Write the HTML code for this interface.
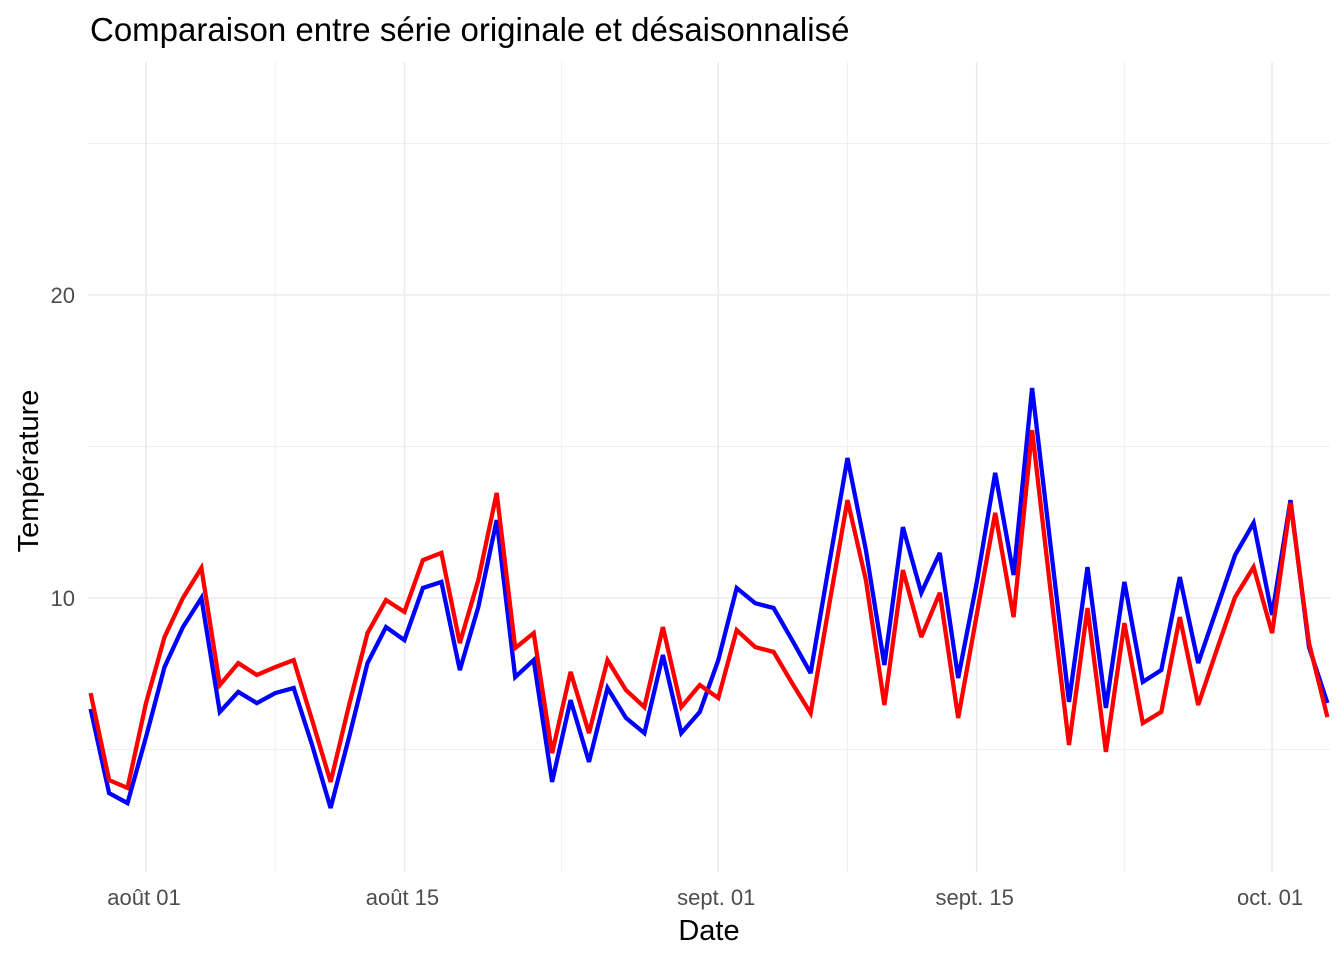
<!DOCTYPE html>
<html><head><meta charset="utf-8">
<style>
html,body{margin:0;padding:0;background:#fff;}
svg{display:block;font-family:"Liberation Sans",sans-serif;}
</style></head>
<body>
<svg id="chart" width="1344" height="960">
<text x="90" y="41" font-size="33" fill="#000">Comparaison entre série originale et désaisonnalisé</text>
<g id="grid"></g>
<g id="lines"></g>
<g id="axes"></g>
<text x="709" y="940" font-size="29" fill="#000" text-anchor="middle">Date</text>
<text transform="translate(38,471) rotate(-90)" font-size="29" fill="#000" text-anchor="middle">Température</text>
</svg>
<script>
const startDate = "2023-07-29";
const originalSeries = [6.34,3.56,3.23,5.41,7.72,9.04,10.00,6.24,6.90,6.53,6.86,7.03,5.15,3.07,5.41,7.85,9.04,8.61,10.33,10.53,7.62,9.70,12.57,7.39,7.95,3.93,6.63,4.59,7.03,6.04,5.54,8.12,5.54,6.24,7.95,10.33,9.83,9.67,8.61,7.52,11.09,14.62,11.58,7.79,12.34,10.17,11.49,7.36,10.50,14.13,10.76,16.93,11.75,6.57,11.02,6.37,10.53,7.23,7.62,10.69,7.85,9.64,11.42,12.48,9.44,13.23,8.38,6.53];
const adjustedSeries = [6.86,3.99,3.73,6.53,8.71,10.00,10.99,7.13,7.85,7.46,7.72,7.95,5.97,3.93,6.47,8.84,9.93,9.54,11.25,11.49,8.51,10.59,13.47,8.35,8.84,4.88,7.56,5.54,7.95,6.96,6.40,9.04,6.40,7.13,6.70,8.94,8.38,8.22,7.19,6.20,9.74,13.23,10.59,6.47,10.92,8.71,10.17,6.04,9.44,12.81,9.37,15.54,10.26,5.15,9.67,4.92,9.17,5.87,6.24,9.37,6.47,8.28,10.03,11.02,8.84,13.14,8.51,6.07];
const yMajorTicks = [10, 20];
const yMinorTicks = [5, 15, 25];
const xTickDates = ["2023-08-01","2023-08-15","2023-09-01","2023-09-15","2023-10-01"];
const xTickLabels = ["août 01","août 15","sept. 01","sept. 15","oct. 01"];

const NS="http://www.w3.org/2000/svg";
const DAY=86400000, ref=Date.parse("2023-08-01T00:00:00Z"), PX=18.46;
function dayOf(dateStr){return (Date.parse(dateStr+"T00:00:00Z")-ref)/DAY;}
function xd(d){return 146 + d*PX;}
function xs(dateStr){return xd(dayOf(dateStr));}
function xi(i){return xs(startDate) + i*PX;}
function ys(v){return 901 - v*30.3;}
function mk(tag,attrs,parent){const e=document.createElementNS(NS,tag);for(const k in attrs)e.setAttribute(k,attrs[k]);parent.appendChild(e);return e;}
const grid=document.getElementById('grid'), lines=document.getElementById('lines'), axes=document.getElementById('axes');
const L=88,R=1330,T=62,B=872;
yMinorTicks.forEach(v=>{const l=mk('line',{x1:L,x2:R,y1:ys(v),y2:ys(v),stroke:'#f0f0f0','stroke-width':1},grid);

});
for(let k=0;k<xTickDates.length-1;k++){const d=(dayOf(xTickDates[k])+dayOf(xTickDates[k+1]))/2;
const l=mk('line',{x1:xd(d),x2:xd(d),y1:T,y2:B,stroke:'#f0f0f0','stroke-width':1},grid);

}
yMajorTicks.forEach(v=>{const l=mk('line',{x1:L,x2:R,y1:ys(v),y2:ys(v),stroke:'#ebebeb','stroke-width':1.6},grid);


const t=mk('text',{x:75,y:ys(v)+8,'font-size':22,fill:'#4d4d4d','text-anchor':'end'},axes);t.textContent=v;

});
xTickDates.forEach((d,i)=>{const l=mk('line',{x1:xs(d),x2:xs(d),y1:T,y2:B,stroke:'#ebebeb','stroke-width':1.6},grid);


const t=mk('text',{x:xs(d)-2,y:905,'font-size':22,fill:'#4d4d4d','text-anchor':'middle'},axes);t.textContent=xTickLabels[i];

});
function series(vals,color,name){
 const p=vals.map((v,i)=>xi(i).toFixed(1)+','+ys(v).toFixed(1)).join(' ');
 const pl=mk('polyline',{points:p,fill:'none',stroke:color,'stroke-width':4.3,'stroke-linejoin':'miter','stroke-miterlimit':3},lines);
 
 
}
const clip=mk('clipPath',{id:'pc'},document.getElementById('chart'));
mk('rect',{x:L,y:T,width:R-L,height:B-T},clip);
lines.setAttribute('clip-path','url(#pc)');
series(originalSeries,'#0000ff','original-series-line');
series(adjustedSeries,'#ff0000','seasonally-adjusted-line');
</script>
</body></html>
